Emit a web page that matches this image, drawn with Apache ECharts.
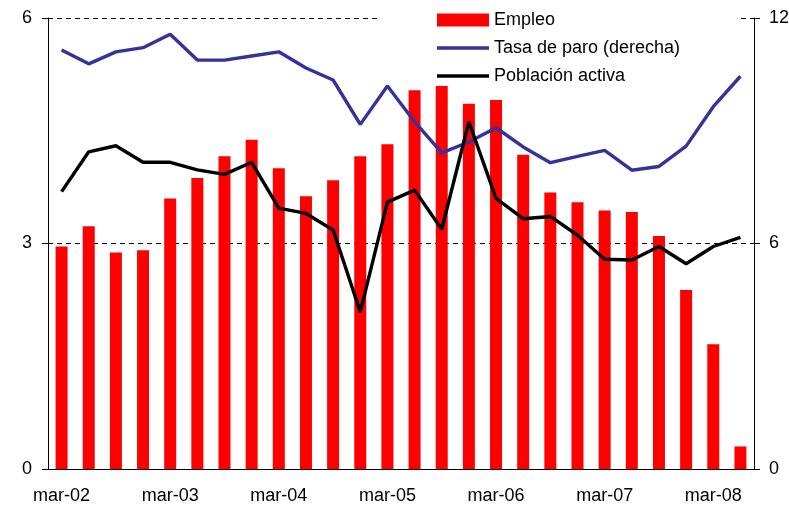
<!DOCTYPE html>
<html>
<head>
<meta charset="utf-8">
<script src="https://cdn.jsdelivr.net/npm/echarts@6/dist/echarts.min.js"></script>
<style>
html,body{margin:0;padding:0;background:#fff;}
#c{width:789px;height:506px;}
</style>
</head>
<body>
<div id="c"></div>
<script>
const categories = [
  'mar-02','jun-02','sep-02','dic-02',
  'mar-03','jun-03','sep-03','dic-03',
  'mar-04','jun-04','sep-04','dic-04',
  'mar-05','jun-05','sep-05','dic-05',
  'mar-06','jun-06','sep-06','dic-06',
  'mar-07','jun-07','sep-07','dic-07',
  'mar-08','jun-08'
];
const empleo = [2.96,3.23,2.88,2.91,3.60,3.87,4.16,4.38,4.00,3.63,3.84,4.16,4.32,5.04,5.10,4.86,4.91,4.18,3.68,3.55,3.44,3.42,3.10,2.38,1.66,0.30];
const tasaParo = [11.15,10.78,11.10,11.21,11.57,10.88,10.88,10.99,11.10,10.67,10.35,9.17,10.19,9.24,8.41,8.70,9.08,8.57,8.15,8.32,8.48,7.95,8.05,8.59,9.64,10.45];
const poblacionActiva = [3.69,4.22,4.30,4.08,4.08,3.98,3.92,4.08,3.47,3.40,3.18,2.09,3.55,3.71,3.19,4.62,3.60,3.33,3.36,3.11,2.79,2.78,2.96,2.73,2.96,3.08];
const seriesNames = ['Empleo','Tasa de paro (derecha)','Población activa'];
const leftTicks = [0,3,6];
const rightTicks = [0,6,12];

const FONT = '"Liberation Sans", Arial, sans-serif';
const LINE_ICON = 'path://M0,0 M0,13 M0,4.8 L52,4.8 L52,8.2 L0,8.2 Z';
const chart = echarts.init(document.getElementById('c'), null, {renderer:'canvas'});
chart.setOption({
  animation: false,
  backgroundColor: '#ffffff',
  textStyle: {fontFamily: FONT},
  grid: {left: 48, right: 35, top: 18, bottom: 37, containLabel: false, outerBoundsMode: 'none'},
  legend: {
    orient: 'vertical',
    left: 380,
    top: 5,
    z: 4,
    padding: [6, 58, 1, 57],
    backgroundColor: '#ffffff',
    itemWidth: 52,
    itemHeight: 13,
    itemGap: 10,
    data: [
      {name: seriesNames[0], icon: 'rect'},
      {name: seriesNames[1], icon: LINE_ICON},
      {name: seriesNames[2], icon: LINE_ICON}
    ],
    textStyle: {fontFamily: FONT, fontSize: 18, color: '#000', lineHeight: 18}
  },
  xAxis: {
    type: 'category',
    data: categories,
    boundaryGap: true,
    axisLine: {lineStyle: {color: '#000', width: 1}},
    axisTick: {interval: 3, length: 6, lineStyle: {color: '#000'}},
    axisLabel: {interval: 3, margin: 18, fontSize: 18, color: '#000', fontFamily: FONT}
  },
  yAxis: [
    {
      type: 'value', min: leftTicks[0], max: leftTicks[2], interval: leftTicks[1],
      axisLine: {show: true, lineStyle: {color: '#000'}},
      axisTick: {show: true, length: 6, lineStyle: {color: '#000'}},
      axisLabel: {margin: 16, fontSize: 18, color: '#000', fontFamily: FONT},
      splitLine: {show: true, lineStyle: {color: '#000', type: [5, 4], width: 1}}
    },
    {
      type: 'value', min: rightTicks[0], max: rightTicks[2], interval: rightTicks[1],
      position: 'right',
      axisLine: {show: true, lineStyle: {color: '#000'}},
      axisTick: {show: true, length: 6, lineStyle: {color: '#000'}},
      axisLabel: {margin: 15, fontSize: 18, color: '#000', fontFamily: FONT},
      splitLine: {show: false}
    }
  ],
  series: [
    {
      name: seriesNames[0], type: 'bar', data: empleo, yAxisIndex: 0,
      barWidth: 12, itemStyle: {color: '#ff0000'}, z: 1
    },
    {
      name: seriesNames[1], type: 'line', data: tasaParo, yAxisIndex: 1,
      symbol: 'none', lineStyle: {color: '#333399', width: 3.4}, itemStyle: {color: '#333399'}, z: 10
    },
    {
      name: seriesNames[2], type: 'line', data: poblacionActiva, yAxisIndex: 0,
      symbol: 'none', lineStyle: {color: '#000000', width: 3.4}, itemStyle: {color: '#000000'}, z: 11
    }
  ]
});
</script>
</body>
</html>
